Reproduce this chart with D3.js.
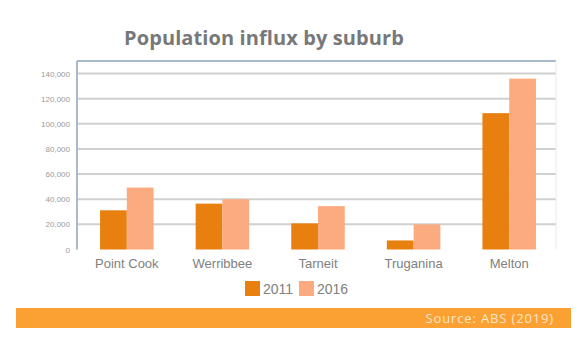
<!DOCTYPE html>
<html lang="en">
<head>
    <meta charset="UTF-8">
    <title>Population influx by suburb</title>
    <script src="https://cdn.jsdelivr.net/npm/d3@7/dist/d3.min.js"></script>
    <style>
        body { margin: 0; background: #fff; }
    </style>
</head>
<body>
<script>
    const suburbs = ['Point Cook', 'Werribbee', 'Tarneit', 'Truganina', 'Melton'];
    const years = ['2011', '2016'];
    const pop2011 = [31200, 36500, 20800, 7200, 108500];
    const pop2016 = [49300, 40000, 34500, 20000, 136000];
    const yTicks = [0, 20000, 40000, 60000, 80000, 100000, 120000, 140000];
    const colors = ['#e8800f', '#fcab80'];

    const width = 580, height = 352;
    const margin = {top: 61, right: 24, bottom: 103, left: 77};

    const svg = d3.select('body').append('svg')
        .attr('width', width)
        .attr('height', height);

    // title
    svg.append('text')
        .attr('x', 264)
        .attr('y', 45)
        .attr('text-anchor', 'middle')
        .style('font', 'bold 20px "Open Sans", sans-serif')
        .style('letter-spacing', '0.1px')
        .attr('fill', '#77787b')
        .text('Population influx by suburb');

    const x0 = d3.scaleBand()
        .domain(suburbs)
        .range([margin.left + 2, width - margin.right + 1])
        .paddingInner(0.44)
        .paddingOuter(0.22);

    const x1 = d3.scaleBand()
        .domain(years)
        .range([0, x0.bandwidth()]);

    const y = d3.scaleLinear()
        .domain([0, 150000])
        .range([height - margin.bottom + 0.5, margin.top]);

    // gridlines
    svg.append('g')
        .selectAll('line')
        .data(yTicks.slice(1))
        .enter().append('line')
        .attr('x1', margin.left)
        .attr('x2', width - margin.right)
        .attr('y1', d => y(d))
        .attr('y2', d => y(d))
        .attr('stroke', '#d0d0d0')
        .attr('stroke-width', 2);

    // frame
    svg.append('line')
        .attr('x1', margin.left).attr('x2', width - margin.right)
        .attr('y1', margin.top).attr('y2', margin.top)
        .attr('stroke', '#a9b9cf').attr('stroke-width', 2);
    svg.append('line')
        .attr('x1', width - margin.right).attr('x2', width - margin.right)
        .attr('y1', margin.top).attr('y2', y(0))
        .attr('stroke', '#e6e9ee').attr('stroke-width', 1);

    // bars
    const series = [pop2011, pop2016];
    const groups = svg.append('g')
        .selectAll('g')
        .data(suburbs)
        .enter().append('g')
        .attr('transform', d => `translate(${x0(d)},0)`);

    groups.selectAll('rect')
        .data((d, i) => years.map((yr, j) => ({yr, v: series[j][i]})))
        .enter().append('rect')
        .attr('x', d => x1(d.yr))
        .attr('width', x1.bandwidth())
        .attr('y', d => y(d.v))
        .attr('height', d => y(0) - y(d.v))
        .attr('fill', (d, j) => colors[j]);

    // y axis
    const yAxis = svg.append('g')
        .attr('transform', `translate(${margin.left},0)`)
        .call(d3.axisLeft(y).tickValues(yTicks).tickSize(0).tickPadding(7).tickFormat(d3.format(',')));
    yAxis.select('.domain')
        .attr('d', `M0,${margin.top}V${y(0)}`)
        .attr('stroke', '#a9b9cf')
        .attr('stroke-width', 2);
    yAxis.selectAll('text')
        .style('font', '8px "Liberation Sans Narrow", "Liberation Sans", sans-serif')
        .attr('fill', '#9a9a9a');

    // x axis labels
    const xAxis = svg.append('g')
        .attr('transform', `translate(0,${y(0)})`)
        .call(d3.axisBottom(x0).tickSize(0).tickPadding(9));
    xAxis.select('.domain').remove();
    xAxis.selectAll('text')
        .style('font', '13px "Liberation Sans Narrow", "Liberation Sans", sans-serif')
        .attr('fill', '#808080');

    // legend
    const legend = svg.append('g')
        .selectAll('g')
        .data(years)
        .enter().append('g')
        .attr('transform', (d, i) => `translate(${245 + i * 54},281)`);
    legend.append('rect')
        .attr('width', 15)
        .attr('height', 15)
        .attr('fill', (d, i) => colors[i]);
    legend.append('text')
        .attr('x', 18)
        .attr('y', 13)
        .style('font', '14px "Liberation Sans Narrow", "Liberation Sans", sans-serif')
        .attr('fill', '#808080')
        .text(d => d);

    // source banner
    svg.append('rect')
        .attr('x', 16)
        .attr('y', 308)
        .attr('width', 555)
        .attr('height', 20)
        .attr('fill', '#fba133');
    svg.append('text')
        .attr('x', 554)
        .attr('y', 323)
        .attr('text-anchor', 'end')
        .style('font', '13px "Open Sans", sans-serif')
        .style('letter-spacing', '0.85px')
        .attr('fill', '#fde6c8')
        .text('Source: ABS (2019)');
</script>
</body>
</html>
